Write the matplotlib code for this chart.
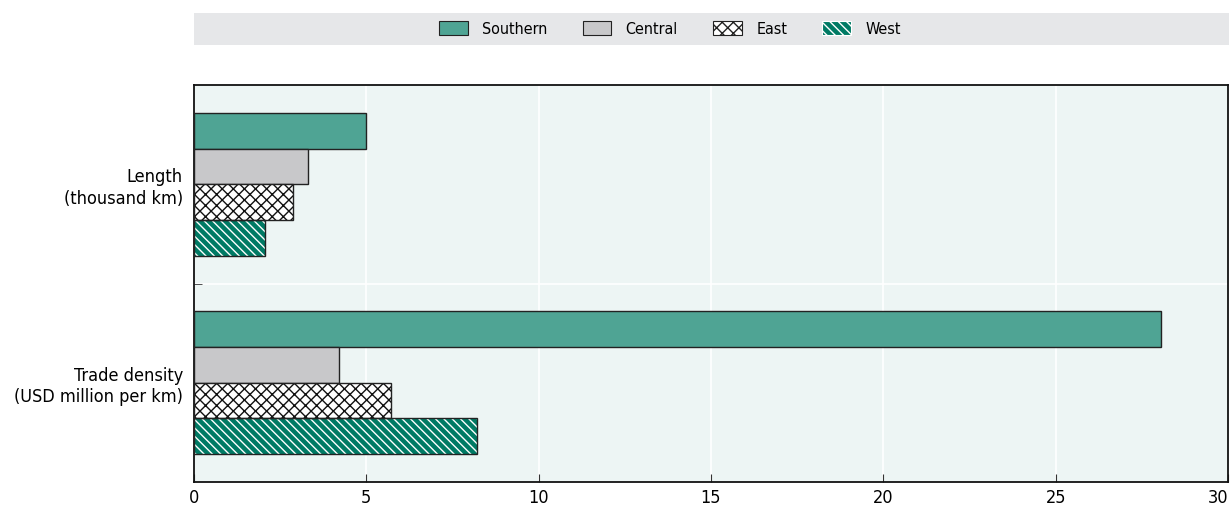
import matplotlib
matplotlib.use("Agg")
import matplotlib.pyplot as plt
from matplotlib.patches import Patch, Rectangle
import numpy as np

plt.rcParams['font.family'] = ['DejaVu Sans']
plt.rcParams['font.stretch'] = 'condensed'
plt.rcParams['hatch.linewidth'] = 1.0

categories = ["Length\n(thousand km)", "Trade density\n(USD million per km)"]
series = ["Southern", "Central", "East", "West"]
southern = [5.0, 28.05]
central = [3.3, 4.22]
east = [2.87, 5.72]
west = [2.05, 8.22]
xticks = [0, 5, 10, 15, 20, 25, 30]

values = [southern, central, east, west]
faces = ["#4FA494", "#C8C8CA", "#FFFFFF", "#007A64"]
hatches = [None, None, "xxx", "\\\\\\\\"]
hatch_cols = [None, None, "#111111", "#FFFFFF"]
edge = "#222222"

fig = plt.figure(figsize=(12.3, 5.15), dpi=100)
W, H = 1230, 515
ax = fig.add_axes([194 / W, (H - 482) / H, (1228 - 194) / W, (482 - 85) / H])
ax.set_facecolor("#EDF5F4")

bh = 0.18
y = np.arange(len(categories))
for i, (vals, fc, ht, hc) in enumerate(zip(values, faces, hatches, hatch_cols)):
    pos = y - 1.5 * bh + i * bh
    if ht:
        ax.barh(pos, vals, height=bh, color=fc, edgecolor=hc, hatch=ht, linewidth=0, zorder=3)
        ax.barh(pos, vals, height=bh, fill=False, edgecolor=edge, linewidth=1.0, zorder=4)
    else:
        ax.barh(pos, vals, height=bh, color=fc, edgecolor=edge, linewidth=1.0, zorder=3)

ax.set_xlim(0, 30)
ax.set_ylim(1.5, -0.5)
ax.set_xticks(xticks)
ax.set_xticklabels([str(t) for t in xticks], fontsize=13)
ax.set_yticks(y)
ax.set_yticklabels(categories, fontsize=13, linespacing=1.25)
ax.set_yticks([0.5], minor=True)
ax.tick_params(axis='y', which='major', length=0, pad=8)
ax.tick_params(axis='y', which='minor', length=6, direction='in', color="#333333")
ax.tick_params(axis='x', which='major', length=6, direction='in', color="#333333", pad=5)
lbls = ax.get_xticklabels()
lbls[-1].set_horizontalalignment('right')
ax.grid(True, axis='x', color='white', linewidth=1.2, zorder=1)
ax.grid(True, axis='y', which='minor', color='white', linewidth=1.2, zorder=1)
ax.set_axisbelow(True)
for s in ax.spines.values():
    s.set_color("#111111")
    s.set_linewidth(1.3)

# legend band
fig.patches.append(Rectangle((194 / W, (H - 45) / H), (1229 - 194) / W, 32 / H,
                             transform=fig.transFigure, facecolor="#E6E7E9",
                             edgecolor='none', zorder=0))
handles = []
for s, fc, ht, hc in zip(series, faces, hatches, hatch_cols):
    if ht:
        handles.append(Patch(facecolor=fc, edgecolor=edge if hc == "#111111" else hc,
                             hatch=ht, linewidth=0.8, label=s))
    else:
        handles.append(Patch(facecolor=fc, edgecolor=edge, linewidth=0.8, label=s))
leg = fig.legend(handles=handles, loc='center', bbox_to_anchor=(670 / W, (H - 29) / H),
                 ncol=4, frameon=False, fontsize=11.5, handlelength=1.8, handleheight=1.0,
                 columnspacing=2.2, handletextpad=0.9)
wpatch = leg.get_patches()[3]
wpatch.set_edgecolor("#FFFFFF")

fig.savefig("out.png", dpi=100)
